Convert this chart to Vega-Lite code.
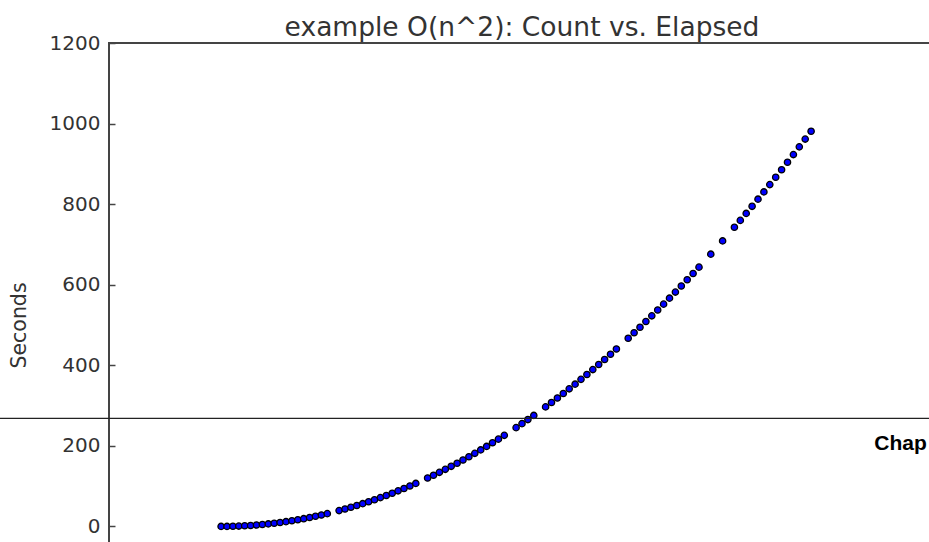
{
  "$schema": "https://vega.github.io/schema/vega-lite/v6.json",
  "width": 826,
  "height": 564,
  "autosize": {"type": "none"},
  "padding": {"left": 109, "top": 43, "right": 0, "bottom": 0},
  "background": "white",
  "title": {"text": "example O(n^2): Count vs. Elapsed", "font": "DejaVu Sans", "fontSize": 26.5, "fontWeight": "normal", "color": "#333", "anchor": "middle", "baseline": "alphabetic", "offset": -29, "frame": "group"},
  "config": {
    "view": {"stroke": "#444444", "strokeWidth": 2},
    "axis": {"grid": false, "domain": false, "tickColor": "#444", "tickWidth": 1.5, "tickSize": 6, "minExtent": 0, "labelFont": "DejaVu Sans", "labelFontSize": 20, "labelColor": "#333", "titleFont": "DejaVu Sans", "titleFontSize": 20.5, "titleFontWeight": "normal", "titleColor": "#333"}
  },
  "datasets": {
    "points": [
      {"Count": 190, "Elapsed": 0}, {"Count": 200, "Elapsed": 0.1}, {"Count": 210, "Elapsed": 0.39}, {"Count": 220, "Elapsed": 0.88},
      {"Count": 230, "Elapsed": 1.57}, {"Count": 240, "Elapsed": 2.45}, {"Count": 250, "Elapsed": 3.53}, {"Count": 260, "Elapsed": 4.81},
      {"Count": 270, "Elapsed": 6.28}, {"Count": 280, "Elapsed": 7.95}, {"Count": 290, "Elapsed": 9.81}, {"Count": 300, "Elapsed": 11.87},
      {"Count": 310, "Elapsed": 14.13}, {"Count": 320, "Elapsed": 16.58}, {"Count": 330, "Elapsed": 19.23}, {"Count": 340, "Elapsed": 22.07},
      {"Count": 350, "Elapsed": 25.11}, {"Count": 360, "Elapsed": 28.35}, {"Count": 370, "Elapsed": 31.78},
      {"Count": 390, "Elapsed": 39.24}, {"Count": 400, "Elapsed": 43.26}, {"Count": 410, "Elapsed": 47.48}, {"Count": 420, "Elapsed": 51.89},
      {"Count": 430, "Elapsed": 56.51}, {"Count": 440, "Elapsed": 61.31}, {"Count": 450, "Elapsed": 66.32}, {"Count": 460, "Elapsed": 71.51},
      {"Count": 470, "Elapsed": 76.91}, {"Count": 480, "Elapsed": 82.5}, {"Count": 490, "Elapsed": 88.29}, {"Count": 500, "Elapsed": 94.27},
      {"Count": 510, "Elapsed": 100.45}, {"Count": 520, "Elapsed": 106.83},
      {"Count": 540, "Elapsed": 120.17}, {"Count": 550, "Elapsed": 127.14}, {"Count": 560, "Elapsed": 134.3}, {"Count": 570, "Elapsed": 141.66},
      {"Count": 580, "Elapsed": 149.21}, {"Count": 590, "Elapsed": 156.96}, {"Count": 600, "Elapsed": 164.91}, {"Count": 610, "Elapsed": 173.05},
      {"Count": 620, "Elapsed": 181.39}, {"Count": 630, "Elapsed": 189.92}, {"Count": 640, "Elapsed": 198.65}, {"Count": 650, "Elapsed": 207.58},
      {"Count": 660, "Elapsed": 216.7}, {"Count": 670, "Elapsed": 226.02},
      {"Count": 690, "Elapsed": 245.25}, {"Count": 700, "Elapsed": 255.16}, {"Count": 710, "Elapsed": 265.26}, {"Count": 720, "Elapsed": 275.56},
      {"Count": 740, "Elapsed": 296.75}, {"Count": 750, "Elapsed": 307.64}, {"Count": 760, "Elapsed": 318.72}, {"Count": 770, "Elapsed": 330.01},
      {"Count": 780, "Elapsed": 341.49}, {"Count": 790, "Elapsed": 353.16}, {"Count": 800, "Elapsed": 365.03}, {"Count": 810, "Elapsed": 377.1},
      {"Count": 820, "Elapsed": 389.36}, {"Count": 830, "Elapsed": 401.82}, {"Count": 840, "Elapsed": 414.47}, {"Count": 850, "Elapsed": 427.32},
      {"Count": 860, "Elapsed": 440.37},
      {"Count": 880, "Elapsed": 467.05}, {"Count": 890, "Elapsed": 480.69}, {"Count": 900, "Elapsed": 494.52}, {"Count": 910, "Elapsed": 508.55},
      {"Count": 920, "Elapsed": 522.77}, {"Count": 930, "Elapsed": 537.2}, {"Count": 940, "Elapsed": 551.81}, {"Count": 950, "Elapsed": 566.63},
      {"Count": 960, "Elapsed": 581.64}, {"Count": 970, "Elapsed": 596.84}, {"Count": 980, "Elapsed": 612.24}, {"Count": 990, "Elapsed": 627.84},
      {"Count": 1000, "Elapsed": 643.64},
      {"Count": 1020, "Elapsed": 675.81},
      {"Count": 1040, "Elapsed": 708.77},
      {"Count": 1060, "Elapsed": 742.52}, {"Count": 1070, "Elapsed": 759.69}, {"Count": 1080, "Elapsed": 777.05}, {"Count": 1090, "Elapsed": 794.61},
      {"Count": 1100, "Elapsed": 812.37}, {"Count": 1110, "Elapsed": 830.32}, {"Count": 1120, "Elapsed": 848.47}, {"Count": 1130, "Elapsed": 866.81},
      {"Count": 1140, "Elapsed": 885.35}, {"Count": 1150, "Elapsed": 904.09}, {"Count": 1160, "Elapsed": 923.02}, {"Count": 1170, "Elapsed": 942.16},
      {"Count": 1180, "Elapsed": 961.48}, {"Count": 1190, "Elapsed": 981}
    ],
    "rule": [{"start": -190, "end": 1500, "level": 268}],
    "note": [{"Count": 1297, "Elapsed": 190, "label": "Chap"}]
  },
  "layer": [
    {
      "data": {"name": "points"},
      "mark": {"type": "point", "shape": "circle", "filled": true, "fill": "#0000ff", "stroke": "#000000", "strokeWidth": 1.3, "size": 40, "opacity": 1},
      "encoding": {
        "x": {"field": "Count", "type": "quantitative", "scale": {"domain": [0, 1400], "nice": false, "zero": false},
              "axis": {"orient": "top", "labels": false, "title": null, "offset": -6, "minExtent": 0, "maxExtent": 0, "values": [0, 200, 400, 600, 800, 1000, 1200, 1400]}},
        "y": {"field": "Elapsed", "type": "quantitative", "scale": {"domain": [-200, 1200], "nice": false, "zero": false},
              "axis": {"orient": "left", "title": "Seconds", "format": "d", "offset": -6, "values": [0, 200, 400, 600, 800, 1000, 1200], "labelPadding": 9, "titleX": -90, "titleY": 282, "titleBaseline": "alphabetic", "titleAngle": -90}}
      }
    },
    {
      "data": {"name": "rule"},
      "mark": {"type": "rule", "color": "#222222", "strokeWidth": 1.3, "clip": false},
      "encoding": {
        "x": {"field": "start", "type": "quantitative", "axis": null},
        "x2": {"field": "end"},
        "y": {"field": "level", "type": "quantitative", "axis": {"orient": "right", "labels": false, "title": null, "offset": -6, "values": [0, 200, 400, 600, 800, 1000, 1200]}}
      }
    },
    {
      "data": {"name": "note"},
      "mark": {"type": "text", "font": "Liberation Sans", "fontWeight": "bold", "fontSize": 21, "align": "left", "baseline": "alphabetic", "color": "#000000", "clip": false},
      "encoding": {
        "x": {"field": "Count", "type": "quantitative", "axis": null},
        "y": {"field": "Elapsed", "type": "quantitative", "axis": null},
        "text": {"field": "label"}
      }
    }
  ]
}
